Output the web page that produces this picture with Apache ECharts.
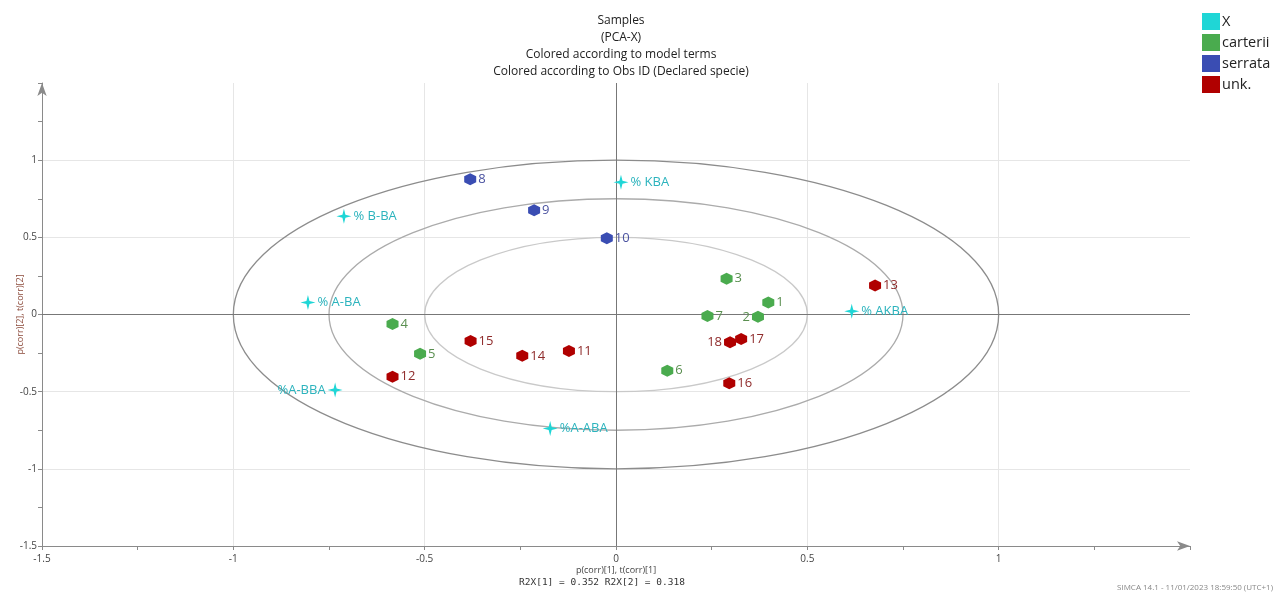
<!DOCTYPE html>
<html>
<head>
<meta charset="utf-8">
<script src="https://cdn.jsdelivr.net/npm/echarts@6/dist/echarts.min.js"></script>
<style>html,body{margin:0;padding:0;background:#fff;}#chart{width:1278px;height:595px;}</style>
</head>
<body>
<div id="chart"></div>
<script>
// ---- data ----
const carteriiIds = ['1','2','3','4','5','6','7'];
const carteriiX = [0.398, 0.371, 0.289, -0.584, -0.512, 0.134, 0.239];
const carteriiY = [0.078, -0.015, 0.232, -0.061, -0.255, -0.364, -0.009];

const serrataIds = ['8','9','10'];
const serrataX = [-0.381, -0.214, -0.024];
const serrataY = [0.877, 0.675, 0.494];

const unkIds = ['11','12','13','14','15','16','17','18'];
const unkX = [-0.123, -0.584, 0.677, -0.245, -0.380, 0.296, 0.327, 0.298];
const unkY = [-0.236, -0.403, 0.188, -0.268, -0.171, -0.446, -0.158, -0.180];

const loadIds = ['% KBA', '% B-BA', '% A-BA', '%A-BBA', '%A-ABA', '% AKBA'];
const loadX = [0.013, -0.711, -0.805, -0.734, -0.172, 0.616];
const loadY = [0.857, 0.636, 0.078, -0.489, -0.738, 0.021];

const ellipseRadii = [1, 0.75, 0.5];
const leftLabelIds = ['2', '18', '%A-BBA'];

const titleLines = ['Samples', '(PCA-X)', 'Colored according to model terms', 'Colored according to Obs ID (Declared specie)'];

// ---- build ----
const hexagon = 'path://M0,-1 L0.866,-0.5 L0.866,0.5 L0,1 L-0.866,0.5 L-0.866,-0.5 Z';
const star = 'path://M0,-10 L2,-2 L10,0 L2,2 L0,10 L-2,2 L-10,0 L-2,-2 Z';

function pts(ids, xs, ys) {
  return ids.map((id, i) => {
    const d = { name: id, value: [xs[i], ys[i]] };
    if (leftLabelIds.includes(id)) d.label = { position: 'left' };
    return d;
  });
}

const FONT = '"Open Sans", "Noto Sans", sans-serif';
const ellipseColors = ['#8c8c8c', '#ababab', '#c9c9c9'];

function scatterSeries(name, data, color, labelColor, symbol, size) {
  return {
    name: name, type: 'scatter', data: data, symbol: symbol, symbolSize: size, z: 5,
    itemStyle: { color: color, opacity: 1 },
    label: { show: true, position: 'right', distance: 2, formatter: '{b}', color: labelColor, fontSize: 13, fontFamily: FONT },
    emphasis: { disabled: true }
  };
}

const chart = echarts.init(document.getElementById('chart'), null, { renderer: 'canvas' });
chart.setOption({
  animation: false,
  backgroundColor: '#ffffff',
  title: {
    text: titleLines.join('\n'),
    left: 616, top: 7, textAlign: 'center',
    textStyle: { fontSize: 12, fontWeight: 'normal', color: '#222', lineHeight: 17, fontFamily: FONT }
  },
  legend: {
    orient: 'vertical', left: 1197, top: 8, itemWidth: 18, itemHeight: 17, itemGap: 4,
    icon: 'rect',
    data: ['X', 'carterii', 'serrata', 'unk.'],
    textStyle: { fontSize: 14.5, color: '#222', fontFamily: FONT, padding: [0, 0, 0, -3] }
  },
  grid: { left: 42, right: 88, top: 83, bottom: 49, containLabel: false, outerBoundsMode: 'none' },
  xAxis: {
    type: 'value', min: -1.5, max: 1.5, interval: 0.5,
    name: 'p(corr)[1], t(corr)[1]', nameLocation: 'middle', nameGap: 20, nameMoveOverlap: false,
    nameTextStyle: { fontSize: 9, color: '#444', fontFamily: FONT },
    axisLine: { show: true, onZero: false, symbol: ['none', 'arrow'], symbolSize: [7, 13], lineStyle: { color: '#8a8a8a', width: 1 } },
    axisTick: { show: true, length: 4, lineStyle: { color: '#8a8a8a' } },
    minorTick: { show: true, splitNumber: 2, length: 4, lineStyle: { color: '#8a8a8a' } },
    splitLine: { show: true, showMaxLine: false, lineStyle: { color: '#e6e6e6', width: 1 } },
    axisLabel: { fontSize: 10, color: '#444', margin: 8, fontFamily: FONT,
      formatter: v => (v >= 1.5 ? '' : String(v)) }
  },
  yAxis: {
    type: 'value', min: -1.5, max: 1.5, interval: 0.5,
    name: 'p(corr)[2], t(corr)[2]', nameLocation: 'middle', nameGap: 17, nameRotate: 90, nameMoveOverlap: false,
    nameTextStyle: { fontSize: 9, color: '#8c4b3c', fontFamily: FONT },
    axisLine: { show: true, onZero: false, symbol: ['none', 'arrow'], symbolSize: [7, 13], lineStyle: { color: '#8a8a8a', width: 1 } },
    axisTick: { show: true, length: 4, lineStyle: { color: '#8a8a8a' } },
    minorTick: { show: true, splitNumber: 2, length: 4, lineStyle: { color: '#8a8a8a' } },
    splitLine: { show: true, showMaxLine: false, lineStyle: { color: '#e6e6e6', width: 1 } },
    axisLabel: { fontSize: 10, color: '#444', margin: 5, fontFamily: FONT,
      formatter: v => (v >= 1.5 ? '' : String(v)) }
  },
  series: [
    {
      name: 'ellipses', type: 'custom', z: 2, silent: true,
      data: ellipseRadii.map(r => [0, 0, r]),
      encode: { x: 0, y: 1 },
      renderItem: function (params, api) {
        const r = api.value(2);
        const c = api.coord([0, 0]);
        const s = api.size([r, r]);
        return {
          type: 'ellipse',
          shape: { cx: c[0], cy: c[1], rx: s[0], ry: s[1] },
          style: { fill: null, stroke: ellipseColors[params.dataIndex], lineWidth: 1.3 }
        };
      },
      markLine: {
        silent: true, symbol: 'none', label: { show: false },
        lineStyle: { color: '#777', type: 'solid', width: 1 },
        data: [{ xAxis: 0 }, { yAxis: 0 }]
      }
    },
    scatterSeries('X', pts(loadIds, loadX, loadY), '#1fd6d6', '#2bb3bd', star, 15),
    scatterSeries('carterii', pts(carteriiIds, carteriiX, carteriiY), '#4aab4e', '#5a8f50', hexagon, 12),
    scatterSeries('serrata', pts(serrataIds, serrataX, serrataY), '#3a4db3', '#4a52a0', hexagon, 12),
    scatterSeries('unk.', pts(unkIds, unkX, unkY), '#b00000', '#8f2b2b', hexagon, 12)
  ],
  graphic: [
    { type: 'text', left: 519, top: 578, style: { text: 'R2X[1] = 0.352 R2X[2] = 0.318', font: '9.5px "DejaVu Sans Mono", monospace', fill: '#333' } },
    { type: 'text', right: 5, bottom: 3, style: { text: 'SIMCA 14.1 - 11/01/2023 18:59:50 (UTC+1)', font: '8px "Open Sans", sans-serif', fill: '#888' } }
  ]
});
</script>
</body>
</html>
